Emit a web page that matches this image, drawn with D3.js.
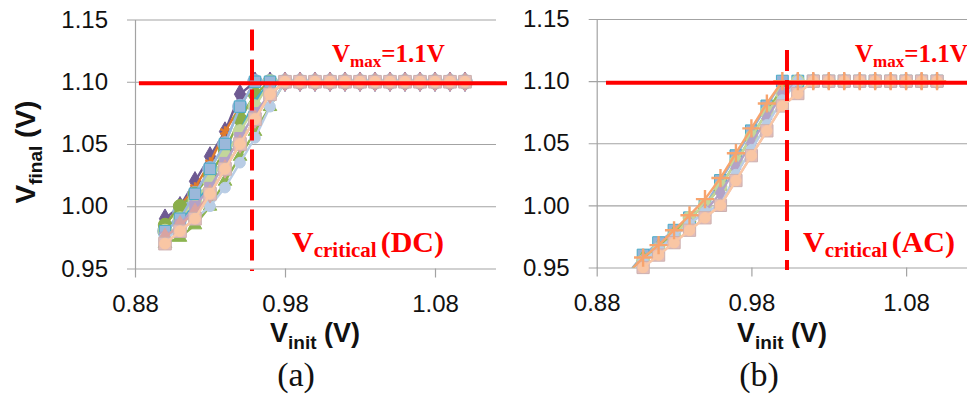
<!DOCTYPE html>
<html>
<head>
<meta charset="utf-8">
<script src="https://cdn.jsdelivr.net/npm/d3@7"></script>
<style>
  html, body { margin: 0; padding: 0; background: #fff; }
  svg { display: block; }
</style>
</head>
<body>
<svg id="fig" width="967" height="396"></svg>
<script>
// Initial voltage sweep (V), shared by both panels
const vInit = [0.90,0.91,0.92,0.93,0.94,0.95,0.96,0.97,0.98,0.99,1.00,1.01,1.02,1.03,1.04,1.05,1.06,1.07,1.08,1.09,1.10];

// Axis ticks
const xTicks = [0.88, 0.98, 1.08];
const yTicks = [0.95, 1.00, 1.05, 1.10, 1.15];

// Reference levels (V)
const vMax = 1.1;
const vCriticalDC = 0.958;
const vCriticalAC = 1.003;

// (a) DC: final voltage for each sample
const dcPurple = [0.99,1.00,1.02,1.04,1.06,1.09,1.10,1.10,1.10,1.10,1.10,1.10,1.10,1.10,1.10,1.10,1.10,1.10,1.10,1.10,1.10];
const dcOrange = [0.985,1.00,1.015,1.035,1.06,1.08,1.10,1.10,1.10,1.10,1.10,1.10,1.10,1.10,1.10,1.10,1.10,1.10,1.10,1.10,1.10];
const dcSteel  = [0.98,0.995,1.01,1.03,1.05,1.08,1.10,1.10,1.10,1.10,1.10,1.10,1.10,1.10,1.10,1.10,1.10,1.10,1.10,1.10,1.10];
const dcBlue   = [0.98,0.99,1.01,1.03,1.05,1.08,1.10,1.10,1.10,1.10,1.10,1.10,1.10,1.10,1.10,1.10,1.10,1.10,1.10,1.10,1.10];
const dcGreen  = [0.985,1.00,1.01,1.025,1.045,1.07,1.09,1.10,1.10,1.10,1.10,1.10,1.10,1.10,1.10,1.10,1.10,1.10,1.10,1.10,1.10];
const dcTeal   = [0.98,0.99,1.00,1.02,1.04,1.06,1.085,1.10,1.10,1.10,1.10,1.10,1.10,1.10,1.10,1.10,1.10,1.10,1.10,1.10,1.10];
const dcLime   = [0.98,0.99,1.005,1.02,1.04,1.06,1.08,1.10,1.10,1.10,1.10,1.10,1.10,1.10,1.10,1.10,1.10,1.10,1.10,1.10,1.10];
const dcLilac  = [0.975,0.985,1.00,1.015,1.035,1.055,1.075,1.09,1.10,1.10,1.10,1.10,1.10,1.10,1.10,1.10,1.10,1.10,1.10,1.10,1.10];
const dcTri    = [0.97,0.975,0.985,1.00,1.02,1.04,1.06,1.08,1.10,1.10,1.10,1.10,1.10,1.10,1.10,1.10,1.10,1.10,1.10,1.10,1.10];
const dcSky    = [0.975,0.98,0.99,1.00,1.015,1.035,1.055,1.08,1.10,1.10,1.10,1.10,1.10,1.10,1.10,1.10,1.10,1.10,1.10,1.10,1.10];
const dcRose   = [0.975,0.985,0.995,1.01,1.03,1.05,1.07,1.09,1.10,1.10,1.10,1.10,1.10,1.10,1.10,1.10,1.10,1.10,1.10,1.10,1.10];
const dcPink   = [0.97,0.98,0.99,1.01,1.03,1.05,1.07,1.09,1.10,1.10,1.10,1.10,1.10,1.10,1.10,1.10,1.10,1.10,1.10,1.10,1.10];
const dcPeach  = [0.97,0.98,0.99,1.01,1.03,1.05,1.07,1.09,1.10,1.10,1.10,1.10,1.10,1.10,1.10,1.10,1.10,1.10,1.10,1.10,1.10];

// (b) AC: final voltage for each sample
const acTeal   = [0.945,0.96,0.97,0.98,0.99,1.00,1.02,1.04,1.06,1.08,1.10,1.10,1.10,1.10,1.10,1.10,1.10,1.10,1.10,1.10,1.10];
const acOrange = [0.945,0.958,0.968,0.98,0.992,1.005,1.022,1.042,1.062,1.082,1.10,1.10,1.10,1.10,1.10,1.10,1.10,1.10,1.10,1.10,1.10];
const acGreen  = [0.945,0.958,0.967,0.978,0.99,1.00,1.015,1.035,1.055,1.075,1.095,1.10,1.10,1.10,1.10,1.10,1.10,1.10,1.10,1.10,1.10];
const acLime   = [0.94,0.955,0.965,0.975,0.99,1.00,1.015,1.035,1.055,1.075,1.09,1.10,1.10,1.10,1.10,1.10,1.10,1.10,1.10,1.10,1.10];
const acLilac  = [0.94,0.955,0.965,0.975,0.985,0.995,1.01,1.03,1.05,1.07,1.09,1.10,1.10,1.10,1.10,1.10,1.10,1.10,1.10,1.10,1.10];
const acSky    = [0.94,0.955,0.965,0.975,0.985,0.995,1.00,1.025,1.045,1.065,1.085,1.10,1.10,1.10,1.10,1.10,1.10,1.10,1.10,1.10,1.10];
const acPink   = [0.94,0.95,0.96,0.97,0.98,0.99,1.00,1.02,1.04,1.06,1.08,1.09,1.10,1.10,1.10,1.10,1.10,1.10,1.10,1.10,1.10];
const acPeach  = [0.94,0.95,0.96,0.97,0.98,0.99,1.00,1.02,1.04,1.06,1.08,1.09,1.10,1.10,1.10,1.10,1.10,1.10,1.10,1.10,1.10];

// Series styling (drawn in order, later on top)
const dcSeries = [
  { values: dcPurple, color: "#6E5A92", marker: "diamond", size: 110 },
  { values: dcOrange, color: "#E07B2C", marker: "asterisk", size: 80 },
  { values: dcSteel,  color: "#95B3D7", marker: "circle", size: 170 },
  { values: dcGreen,  color: "#8AAE4A", marker: "circle", size: 140 },
  { values: dcTeal,   color: "#4BACC6", marker: "x", size: 70 },
  { values: dcLime,   color: "#C3D69B", marker: "circle", size: 150 },
  { values: dcBlue,   color: "#9AB8DA", marker: "square", size: 130, edge: "#4BACC6" },
  { values: dcLilac,  color: "#B3A2C7", marker: "square", size: 110 },
  { values: dcTri,    color: "#8DB451", marker: "triangle", size: 80 },
  { values: dcSky,    color: "#B9CDE5", marker: "circle", size: 90 },
  { values: dcRose,   color: "#D9A3A1", marker: "diamond", size: 100 },
  { values: dcPink,   color: "#E3BDBA", marker: "square", size: 160, edge: "#CDB0AE" },
  { values: dcPeach,  color: "#F9C6A4", marker: "circle", size: 90 }
];

const acSeries = [
  { values: acTeal,   color: "#95B3D7", marker: "square", size: 140, edge: "#4BACC6" },
  { values: acGreen,  color: "#9BBB59", marker: "triangle", size: 70 },
  { values: acLime,   color: "#C3D69B", marker: "circle", size: 130 },
  { values: acLilac,  color: "#B3A2C7", marker: "diamond", size: 90 },
  { values: acSky,    color: "#B9CDE5", marker: "circle", size: 80 },
  { values: acPink,   color: "#E3BDBA", marker: "square", size: 150, edge: "#CDB0AE" },
  { values: acPeach,  color: "#F9C6A4", marker: "circle", size: 85 },
  { values: acOrange, color: "#F7A46E", marker: "plus", size: 110 }
];

const svg = d3.select("#fig");

const symbolTypes = {
  diamond: d3.symbolDiamond,
  square: d3.symbolSquare,
  circle: d3.symbolCircle,
  triangle: d3.symbolTriangle,
  x: d3.symbolX || d3.symbolCross,
  plus: d3.symbolPlus || d3.symbolCross,
  asterisk: d3.symbolAsterisk || d3.symbolCross
};
const strokeMarkers = new Set(["x", "plus", "asterisk"]);

function subText(g, x, y, parts, attrs) {
  const t = g.append("text").attr("x", x).attr("y", y);
  Object.entries(attrs).forEach(([k, v]) => t.attr(k, v));
  parts.forEach(p => {
    const s = t.append("tspan").text(p.text);
    if (p.size) s.attr("font-size", p.size);
    if (p.dy) s.attr("dy", p.dy);
    if (p.dx) s.attr("dx", p.dx);
  });
  return t;
}

function drawPanel(cfg) {
  const x = d3.scaleLinear().domain([0.88, 1.12]).range([cfg.left, cfg.right]);
  const y = d3.scaleLinear().domain([0.95, 1.15]).range([cfg.bottom, cfg.top]);
  const g = svg.append("g");

  // Horizontal gridlines, extending slightly left of the axis as tick marks
  g.append("g")
    .attr("transform", `translate(${cfg.left - 8},0)`)
    .call(d3.axisLeft(y).tickValues(yTicks).tickSize(-(cfg.gridRight - cfg.left + 8)).tickFormat(""))
    .call(a => a.select(".domain").remove())
    .call(a => a.selectAll(".tick line").attr("stroke", "#a3a3a3").attr("stroke-width", 1.2));

  // Y tick labels
  g.append("g")
    .attr("transform", `translate(${cfg.left},0)`)
    .call(d3.axisLeft(y).tickValues(yTicks).tickSize(0).tickPadding(27).tickFormat(d3.format(".2f")))
    .call(a => a.select(".domain").attr("stroke", "#a3a3a3").attr("stroke-width", 1.2))
    .call(a => a.selectAll("text").attr("font-family", "'Liberation Sans', Arial, sans-serif")
      .attr("font-size", 24).attr("fill", "#111"));

  // X axis
  g.append("g")
    .attr("transform", `translate(0,${cfg.bottom})`)
    .call(d3.axisBottom(x).tickValues(xTicks).tickSize(9).tickSizeOuter(0).tickPadding(17).tickFormat(d3.format(".2f")))
    .call(a => a.select(".domain").remove())
    .call(a => a.selectAll(".tick line").attr("stroke", "#a3a3a3").attr("stroke-width", 1.2))
    .call(a => a.selectAll("text").attr("font-family", "'Liberation Sans', Arial, sans-serif")
      .attr("font-size", 24).attr("fill", "#111"));

  // Clip for series lines
  const clipId = "clip-" + cfg.key;
  svg.append("clipPath").attr("id", clipId)
    .append("rect")
    .attr("x", cfg.left).attr("y", cfg.top)
    .attr("width", cfg.gridRight - cfg.left).attr("height", cfg.bottom - cfg.top);

  const line = d3.line().x((d, i) => x(vInit[i])).y(d => y(d));
  const plot = g.append("g");

  cfg.series.forEach(s => {
    const sg = plot.append("g");
    sg.append("path")
      .attr("clip-path", `url(#${clipId})`)
      .attr("d", line(s.values))
      .attr("fill", "none")
      .attr("stroke", s.color)
      .attr("stroke-width", 2.4)
      .attr("stroke-linejoin", "round");
    const pts = s.values.map((v, i) => [vInit[i], v]).filter(p => p[1] >= 0.95 && p[1] <= 1.15);
    const sym = d3.symbol().type(symbolTypes[s.marker]).size(s.size);
    const isStroke = strokeMarkers.has(s.marker);
    sg.selectAll("path.m").data(pts).join("path")
      .attr("class", "m")
      .attr("transform", p => `translate(${x(p[0])},${y(p[1])})`)
      .attr("d", sym)
      .attr("fill", isStroke ? "none" : s.color)
      .attr("stroke", isStroke ? s.color : (s.edge || s.color))
      .attr("stroke-width", isStroke ? 2.4 : 1);
  });

  // V_max reference line
  g.append("line")
    .attr("x1", x(cfg.vmaxSpan[0])).attr("x2", x(cfg.vmaxSpan[1]))
    .attr("y1", y(vMax) + 1.5).attr("y2", y(vMax) + 1.5)
    .attr("stroke", "#ff0000").attr("stroke-width", 4);

  // V_critical dashed marker
  g.append("line")
    .attr("x1", x(cfg.vcrit)).attr("x2", x(cfg.vcrit))
    .attr("y1", y(cfg.critSpan[1])).attr("y2", y(cfg.critSpan[0]))
    .attr("stroke", "#ff0000").attr("stroke-width", 4)
    .attr("stroke-dasharray", "21 9");

  const redFont = { "font-family": "'Liberation Serif', 'Times New Roman', serif", "font-weight": "bold", "fill": "#ff0000" };

  subText(g, cfg.vmaxLabel[0], cfg.vmaxLabel[1], [
    { text: "V", size: 25 },
    { text: "max", size: 17, dy: 5 },
    { text: "=1.1V", size: 25, dy: -5 }
  ], redFont);

  subText(g, cfg.critLabel[0], cfg.critLabel[1], [
    { text: "V", size: 30 },
    { text: "critical", size: 21, dy: 5 },
    { text: "(" + cfg.mode + ")", size: 30, dy: -5, dx: 4 }
  ], redFont);

  const axisFont = { "font-family": "'Liberation Sans', Arial, sans-serif", "font-weight": "bold", "fill": "#111" };

  subText(g, cfg.xTitle[0], cfg.xTitle[1], [
    { text: "V", size: 27 },
    { text: "init", size: 19, dy: 7 },
    { text: " (V)", size: 27, dy: -7 }
  ], axisFont);

  if (cfg.yTitle) {
    const t = subText(g, 0, 0, [
      { text: "V", size: 28 },
      { text: "final", size: 19, dy: 7 },
      { text: " (V)", size: 28, dy: -7 }
    ], Object.assign({ "text-anchor": "middle" }, axisFont));
    t.attr("transform", `translate(${cfg.yTitle[0]},${cfg.yTitle[1]}) rotate(-90)`);
  }

  g.append("text")
    .attr("x", cfg.caption[0]).attr("y", cfg.caption[1])
    .attr("text-anchor", "middle")
    .attr("font-family", "'Liberation Serif', 'Times New Roman', serif")
    .attr("font-size", 34)
    .attr("fill", "#111")
    .text("(" + cfg.key + ")");
}

drawPanel({
  key: "a", mode: "DC", series: dcSeries,
  left: 135, right: 495, gridRight: 496, top: 19.5, bottom: 268.5,
  vcrit: vCriticalDC, critSpan: [0.948, 1.142], vmaxSpan: [0.8826, 1.128],
  vmaxLabel: [332, 62], critLabel: [292, 252],
  xTitle: [270, 342], yTitle: [35, 152], caption: [296, 386]
});

drawPanel({
  key: "b", mode: "AC", series: acSeries,
  left: 596.7, right: 968, gridRight: 967, top: 19, bottom: 267.5,
  vcrit: vCriticalAC, critSpan: [0.948, 1.125], vmaxSpan: [0.886, 1.13],
  vmaxLabel: [855, 62], critLabel: [803, 252],
  xTitle: [737, 342], yTitle: null, caption: [759, 386]
});
</script>
</body>
</html>
